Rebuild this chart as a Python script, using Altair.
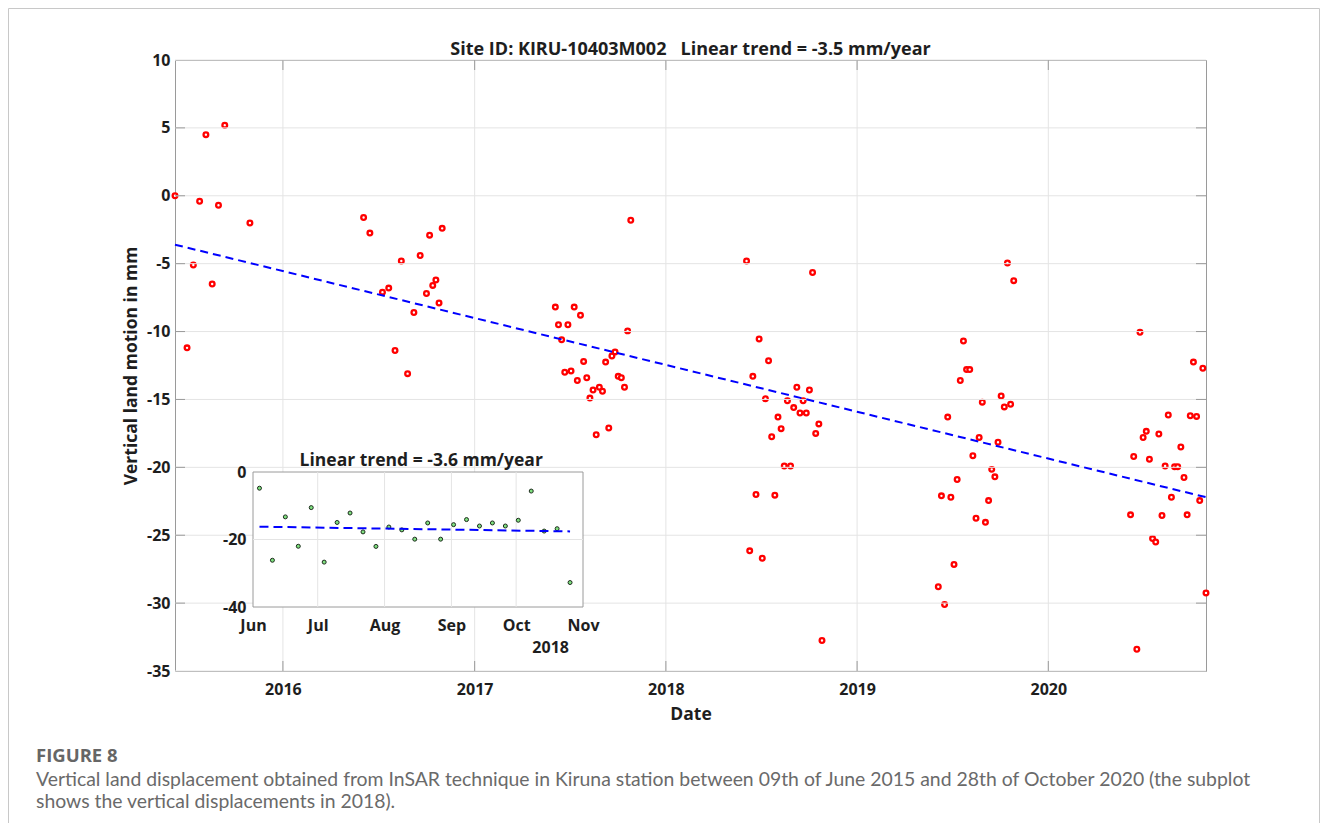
import altair as alt
import pandas as pd

# ---------------- data ----------------
dates_2015 = ["2015-06-09", "2015-07-02", "2015-07-14", "2015-07-26", "2015-08-07",
              "2015-08-19", "2015-08-31", "2015-09-12", "2015-10-30"]
values_2015 = [0.0, -11.2, -5.1, -0.4, 4.5, -6.5, -0.7, 5.2, -2.0]

dates_2016 = ["2016-06-03", "2016-06-15", "2016-07-09", "2016-07-21", "2016-08-02",
              "2016-08-14", "2016-08-26", "2016-09-07", "2016-09-19", "2016-10-01",
              "2016-10-07", "2016-10-13", "2016-10-19", "2016-10-25", "2016-10-31"]
values_2016 = [-1.6, -2.75, -7.1, -6.8, -11.4, -4.8, -13.1, -8.6, -4.4, -7.2,
               -2.9, -6.6, -6.2, -7.9, -2.4]

dates_2017 = ["2017-06-04", "2017-06-10", "2017-06-16", "2017-06-22", "2017-06-28",
              "2017-07-04", "2017-07-10", "2017-07-16", "2017-07-22", "2017-07-28",
              "2017-08-03", "2017-08-09", "2017-08-15", "2017-08-21", "2017-08-27",
              "2017-09-02", "2017-09-08", "2017-09-14", "2017-09-20", "2017-09-26",
              "2017-10-02", "2017-10-08", "2017-10-14", "2017-10-20", "2017-10-26"]
values_2017 = [-8.2, -9.5, -10.6, -13.0, -9.5, -12.9, -8.2, -13.6, -8.8, -12.2,
               -13.4, -14.9, -14.3, -17.6, -14.1, -14.4, -12.25, -17.1, -11.8, -11.5,
               -13.3, -13.4, -14.1, -9.95, -1.8]

dates_2018 = ["2018-06-04", "2018-06-10", "2018-06-16", "2018-06-22", "2018-06-28",
              "2018-07-04", "2018-07-10", "2018-07-16", "2018-07-22", "2018-07-28",
              "2018-08-03", "2018-08-09", "2018-08-15", "2018-08-21", "2018-08-27",
              "2018-09-02", "2018-09-08", "2018-09-14", "2018-09-20", "2018-09-26",
              "2018-10-02", "2018-10-08", "2018-10-14", "2018-10-20", "2018-10-26"]
values_2018 = [-4.8, -26.15, -13.3, -22.0, -10.55, -26.7, -14.95, -12.15, -17.75, -22.05,
               -16.3, -17.15, -19.9, -15.1, -19.9, -15.6, -14.1, -16.0, -15.1, -16.0,
               -14.3, -5.65, -17.5, -16.8, -32.75]

dates_2019 = ["2019-06-05", "2019-06-11", "2019-06-17", "2019-06-23", "2019-06-29",
              "2019-07-05", "2019-07-11", "2019-07-17", "2019-07-23", "2019-07-29",
              "2019-08-04", "2019-08-10", "2019-08-16", "2019-08-22", "2019-08-28",
              "2019-09-03", "2019-09-09", "2019-09-15", "2019-09-21", "2019-09-27",
              "2019-10-03", "2019-10-09", "2019-10-15", "2019-10-21", "2019-10-27"]
values_2019 = [-28.8, -22.1, -30.1, -16.3, -22.2, -27.15, -20.9, -13.6, -10.7, -12.8,
               -12.8, -19.15, -23.75, -17.8, -15.2, -24.05, -22.45, -20.15, -20.7, -18.15,
               -14.75, -15.55, -4.95, -15.35, -6.25]

dates_2020 = ["2020-06-06", "2020-06-12", "2020-06-18", "2020-06-24", "2020-06-30",
              "2020-07-06", "2020-07-12", "2020-07-18", "2020-07-24", "2020-07-30",
              "2020-08-05", "2020-08-11", "2020-08-17", "2020-08-23", "2020-08-29",
              "2020-09-04", "2020-09-10", "2020-09-16", "2020-09-22", "2020-09-28",
              "2020-10-04", "2020-10-10", "2020-10-16", "2020-10-22", "2020-10-28"]
values_2020 = [-23.5, -19.2, -33.4, -10.05, -17.8, -17.35, -19.4, -25.25, -25.5, -17.55,
               -23.55, -19.9, -16.15, -22.2, -19.95, -19.95, -18.5, -20.75, -23.5, -16.2,
               -12.25, -16.25, -22.45, -12.7, -29.25]

# linear trends (end points of the fitted lines)
trend_dates = ["2015-06-09", "2020-10-28"]
trend_values = [-3.6, -22.2]
inset_trend_dates = ["2018-06-04", "2018-10-26"]
inset_trend_values = [-16.2, -17.6]

# axes
x_start, x_end = "2015-06-09", "2020-10-28"
year_ticks = ["2016-01-01", "2017-01-01", "2018-01-01", "2019-01-01", "2020-01-01"]
y_ticks = [-35, -30, -25, -20, -15, -10, -5, 0, 5, 10]
inset_start, inset_end = "2018-06-01", "2018-11-01"
inset_months = ["2018-06-01", "2018-07-01", "2018-08-01", "2018-09-01", "2018-10-01", "2018-11-01"]
inset_inner_months = ["2018-07-01", "2018-08-01", "2018-09-01", "2018-10-01"]
inset_y_ticks = [-40, -20, 0]
inset_inner_y = [-20]

# texts
main_title = "Site ID: KIRU-10403M002\u00a0\u00a0\u00a0Linear trend = -3.5 mm/year"
main_title_at = "2018-02-17"
inset_title = "Linear trend = -3.6 mm/year"
inset_title_at = "2018-08-18"
inset_year = "2018"
inset_year_at = "2018-10-17"
x_title = "Date"
y_title = "Vertical land motion in mm"
fig_label = "FIGURE 8"
caption_1 = ("Vertical land displacement obtained from InSAR technique in Kiruna station between "
             "09th of June 2015 and 28th of October 2020 (the subplot")
caption_2 = "shows the vertical displacements in 2018)."

# ---------------- build ----------------
def DT(s):
    y, m, d = (int(v) for v in s.split("-"))
    return alt.DateTime(year=y, month=m, date=d)


all_dates = dates_2015 + dates_2016 + dates_2017 + dates_2018 + dates_2019 + dates_2020
all_values = values_2015 + values_2016 + values_2017 + values_2018 + values_2019 + values_2020
obs = pd.DataFrame({"date": pd.to_datetime(all_dates), "value": all_values})
obs_2018 = pd.DataFrame({"date": pd.to_datetime(dates_2018), "value": values_2018})
trend_df = pd.DataFrame({"date": pd.to_datetime(trend_dates), "value": trend_values})
inset_trend_df = pd.DataFrame({"date": pd.to_datetime(inset_trend_dates), "value": inset_trend_values})

W, H = 1031, 611
INK = "#1e1e1e"
BOX = "#9a9a9a"
GRID = "#e4e4e4"
FONT = "Open Sans"


def main_x():
    return alt.Scale(domain=[DT(x_start), DT(x_end)], nice=False)


def main_y():
    return alt.Scale(domain=[-35, 10], nice=False, zero=False)


def inset_x():
    return alt.Scale(domain=[DT(inset_start), DT(inset_end)], range=[78, 408], nice=False)


def inset_y():
    return alt.Scale(domain=[-40, 0], range=[547, 412], nice=False, zero=False)


main_x_axis = alt.Axis(
    orient="bottom",
    values=[DT(t) for t in year_ticks], format="%Y", grid=False,
    domain=False, ticks=False, tickSize=0, labelPadding=10, labelFlush=False, labelOverlap=False,
    labelFontSize=16, labelFontWeight="bold", labelColor=INK, labelFont=FONT,
    title=x_title, titleFontSize=17.5, titleFontWeight="bold", titleColor=INK, titleFont=FONT,
    titlePadding=8,
)
main_y_axis = alt.Axis(
    orient="left",
    values=y_ticks, labelExpr="'' + datum.value", grid=False,
    domain=False, ticks=False, tickSize=0, labelPadding=5, labelOverlap=False,
    labelFontSize=16, labelFontWeight="bold", labelColor=INK, labelFont=FONT,
    title=y_title, titleFontSize=17.5, titleFontWeight="bold", titleColor=INK, titleFont=FONT,
    titlePadding=6,
)

xt_df = pd.DataFrame({"t": pd.to_datetime(year_ticks)})
yg_df = pd.DataFrame({"v": y_ticks})
yt_df = pd.DataFrame({"v": y_ticks[1:-1]})

# main grid
vgrid = alt.Chart(xt_df).mark_rule(color=GRID, strokeWidth=1).encode(
    x=alt.X("t:T", scale=main_x(), axis=None),
    y=alt.YDatum(-35, scale=main_y(), axis=None), y2=alt.Y2Datum(10))
hgrid = alt.Chart(yg_df).mark_rule(color=GRID, strokeWidth=1).encode(
    y=alt.Y("v:Q", scale=main_y(), axis=None),
    x=alt.XDatum(DT(x_start), type="temporal", scale=main_x(), axis=None),
    x2=alt.X2Datum(DT(x_end)))

frame = alt.Chart(pd.DataFrame({"f": [0]})).mark_rect(
    filled=False, stroke="#c8c8c8", strokeWidth=1
).encode(x=alt.value(-166.5), x2=alt.value(W + 113.5), y=alt.value(-51.5), y2=alt.value(H + 300))

points = alt.Chart(obs).mark_point(
    shape="circle", filled=True, fill="white", stroke="#ff0000", strokeWidth=2.3, size=22, opacity=1
).encode(
    x=alt.X("date:T", scale=main_x(), axis=main_x_axis),
    y=alt.Y("value:Q", scale=main_y(), axis=main_y_axis),
)

trend = alt.Chart(trend_df).mark_line(color="#0000ff", strokeWidth=2, strokeDash=[8, 5]).encode(
    x=alt.X("date:T", scale=main_x(), axis=None),
    y=alt.Y("value:Q", scale=main_y(), axis=None),
)

tick_bottom = alt.Chart(xt_df).mark_rule(color=BOX, strokeWidth=1).encode(
    x=alt.X("t:T", scale=main_x(), axis=None), y=alt.value(H), y2=alt.value(H - 10))
tick_top = alt.Chart(xt_df).mark_rule(color=BOX, strokeWidth=1).encode(
    x=alt.X("t:T", scale=main_x(), axis=None), y=alt.value(0), y2=alt.value(10))
tick_left = alt.Chart(yt_df).mark_rule(color=BOX, strokeWidth=1).encode(
    y=alt.Y("v:Q", scale=main_y(), axis=None), x=alt.value(0), x2=alt.value(10))
tick_right = alt.Chart(yt_df).mark_rule(color=BOX, strokeWidth=1).encode(
    y=alt.Y("v:Q", scale=main_y(), axis=None), x=alt.value(W - 10), x2=alt.value(W))

title_mark = alt.Chart(pd.DataFrame({"t": [main_title]})).mark_text(
    font=FONT, fontSize=18, fontWeight="bold", color=INK, baseline="alphabetic", dy=-5
).encode(
    x=alt.XDatum(DT(main_title_at), type="temporal", scale=main_x(), axis=None),
    y=alt.YDatum(10, scale=main_y(), axis=None),
    text="t:N",
)

fig_mark = alt.Chart(pd.DataFrame({"t": [fig_label]})).mark_text(
    font=FONT, fontSize=18.5, fontWeight="bold", color="#666666", align="left", baseline="alphabetic"
).encode(x=alt.value(-139), y=alt.value(702), text="t:N")
cap1 = alt.Chart(pd.DataFrame({"t": [caption_1]})).mark_text(
    font="Lato", fontSize=19.4, color="#6a6a6a", align="left", baseline="alphabetic"
).encode(x=alt.value(-139), y=alt.value(726), text="t:N")
cap2 = alt.Chart(pd.DataFrame({"t": [caption_2]})).mark_text(
    font="Lato", fontSize=19.4, color="#6a6a6a", align="left", baseline="alphabetic"
).encode(x=alt.value(-139), y=alt.value(748), text="t:N")

# ---------------- inset ----------------
inset_x_axis = alt.Axis(
    orient="bottom", offset=-64, values=[DT(m) for m in inset_months], format="%b",
    domain=False, ticks=False, tickSize=0, grid=False, labelPadding=10, labelFlush=False,
    labelOverlap=False, labelFontSize=16, labelFontWeight="bold", labelColor=INK, labelFont=FONT,
    title=None, zindex=1,
)
inset_y_axis = alt.Axis(
    orient="left", offset=-78, values=inset_y_ticks, labelExpr="'' + datum.value",
    domain=False, ticks=False, tickSize=0, grid=False, labelPadding=7, labelOverlap=False,
    labelFontSize=16, labelFontWeight="bold", labelColor=INK, labelFont=FONT,
    title=None, zindex=1,
)

inset_bg = alt.Chart(pd.DataFrame({"b": [0]})).mark_rect(
    fill="white", stroke=BOX, strokeWidth=1
).encode(
    x=alt.XDatum(DT(inset_start), type="temporal", scale=inset_x(), axis=None),
    x2=alt.X2Datum(DT(inset_end)),
    y=alt.YDatum(-40, scale=inset_y(), axis=None),
    y2=alt.Y2Datum(0),
)
inset_vgrid = alt.Chart(pd.DataFrame({"m": pd.to_datetime(inset_inner_months)})).mark_rule(
    color=GRID, strokeWidth=1
).encode(
    x=alt.X("m:T", scale=inset_x(), axis=None),
    y=alt.YDatum(-40, scale=inset_y(), axis=None),
    y2=alt.Y2Datum(0),
)
inset_hgrid = alt.Chart(pd.DataFrame({"v": inset_inner_y})).mark_rule(
    color=GRID, strokeWidth=1
).encode(
    y=alt.Y("v:Q", scale=inset_y(), axis=None),
    x=alt.XDatum(DT(inset_start), type="temporal", scale=inset_x(), axis=None),
    x2=alt.X2Datum(DT(inset_end)),
)
inset_pts = alt.Chart(obs_2018).mark_point(
    shape="circle", filled=True, fill="#7ee07e", stroke="#1d2b1d", strokeWidth=1, size=16, opacity=1
).encode(
    x=alt.X("date:T", scale=inset_x(), axis=inset_x_axis),
    y=alt.Y("value:Q", scale=inset_y(), axis=inset_y_axis),
)
inset_trend = alt.Chart(inset_trend_df).mark_line(
    color="#0000ff", strokeWidth=2, strokeDash=[9, 5]
).encode(
    x=alt.X("date:T", scale=inset_x(), axis=None),
    y=alt.Y("value:Q", scale=inset_y(), axis=None),
)
inset_title_mark = alt.Chart(pd.DataFrame({"t": [inset_title]})).mark_text(
    font=FONT, fontSize=17.5, fontWeight="bold", color=INK, baseline="alphabetic", dy=-6
).encode(
    x=alt.XDatum(DT(inset_title_at), type="temporal", scale=inset_x(), axis=None),
    y=alt.YDatum(0, scale=inset_y(), axis=None),
    text="t:N",
)
inset_year_mark = alt.Chart(pd.DataFrame({"t": [inset_year]})).mark_text(
    font=FONT, fontSize=16, fontWeight="bold", color=INK, baseline="middle", dy=41
).encode(
    x=alt.XDatum(DT(inset_year_at), type="temporal", scale=inset_x(), axis=None),
    y=alt.YDatum(-40, scale=inset_y(), axis=None),
    text="t:N",
)

chart = alt.layer(
    points, vgrid, hgrid, frame, tick_bottom, tick_top, tick_left, tick_right, trend, title_mark,
    fig_mark, cap1, cap2,
    inset_bg, inset_vgrid, inset_hgrid, inset_pts, inset_trend, inset_title_mark, inset_year_mark,
).resolve_scale(
    x="independent", y="independent"
).properties(
    width=W, height=H,
    autosize=alt.AutoSizeParams(type="none"),
    padding={"left": 167, "top": 52, "right": 114, "bottom": 152},
).configure(font=FONT).configure_view(stroke=BOX, strokeWidth=1)

chart.save("out.html", embed_options={"renderer": "svg", "actions": False})
